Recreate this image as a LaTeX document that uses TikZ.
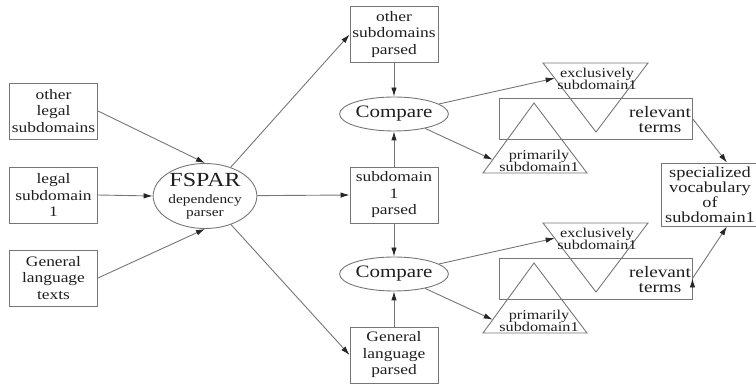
\documentclass[tikz,border=0pt]{standalone}
\usepackage{fontspec}
\setmainfont[FakeStretch=1.2]{Liberation Serif}
\usetikzlibrary{shapes.geometric, arrows.meta, calc}

\definecolor{linegray}{HTML}{767676}
\definecolor{textgray}{HTML}{1E1E1E}

\begin{document}
\begin{tikzpicture}[x=1pt, y=-1pt,
    box/.style={draw=linegray, line width=0.9pt, rectangle, minimum width=88pt, minimum height=56pt,
      inner sep=0pt, align=center, text=textgray, font=\fontsize{14.5}{16.5}\selectfont},
    cmpnode/.style={draw=linegray, line width=0.9pt, ellipse, minimum width=105pt, minimum height=34pt,
      inner sep=0pt, text=textgray, font=\fontsize{17.5}{18}\selectfont},
    tri/.style={draw=linegray, line width=0.9pt, line join=miter},
    tritext/.style={align=center, inner sep=0pt, text=textgray, font=\fontsize{13.5}{12.5}\selectfont},
    reltext/.style={align=center, inner sep=0pt, text=textgray, font=\fontsize{16}{15}\selectfont},
    flow/.style={draw=linegray, line width=0.9pt, -{Latex[length=9pt, width=5.5pt, color=black!85]}}]
  \useasboundingbox (0,0) rectangle (756,387);

  \node[box] (lother) at (53.5,111) {other\\legal\\subdomains};
  \node[box] (lsub) at (53.5,195) {legal\\subdomain\\1};
  \node[box] (ltexts) at (53.5,278) {General\\language\\texts};

  \node[draw=linegray, line width=0.9pt, ellipse, minimum width=95pt, minimum height=58pt, inner sep=0pt,
    align=center, text=textgray, font=\fontsize{20}{20}\selectfont] (fspar) at (205,196)
    {FSPAR\\[-3pt]{\fontsize{12.8}{12.5}\selectfont dependency}\\[-7pt]{\fontsize{12.8}{12.5}\selectfont parser}};

  \node[box] (othparsed) at (394,34.5) {other\\subdomains\\parsed};
  \node[cmpnode] (cmp1) at (394,114) {Compare};
  \node[box] (subparsed) at (394,195) {subdomain\\1\\parsed};
  \node[cmpnode] (cmp2) at (394,274) {Compare};
  \node[box] (genparsed) at (394,355) {General\\language\\parsed};

  \node[draw=linegray, line width=0.9pt, minimum width=98pt, minimum height=63pt, inner sep=0pt,
    align=center, text=textgray, font=\fontsize{15.3}{15}\selectfont] (spec) at (710,194.5)
    {specialized\\vocabulary\\of\\subdomain1};

  \node[draw=linegray, line width=0.9pt, minimum width=193pt, minimum height=41pt, inner sep=0pt] (rel1) at (595.5,118.5) {};
  \node[draw=linegray, line width=0.9pt, minimum width=193pt, minimum height=41pt, inner sep=0pt] (rel2) at (595.5,278.5) {};

  \coordinate (excl1a) at (543,63);
  \coordinate (excl1b) at (648,63);
  \coordinate (excl1c) at (596,132);
  \coordinate (prim1a) at (534,103);
  \coordinate (prim1b) at (483,173);
  \coordinate (prim1c) at (587,173);
  \draw[tri] (excl1a) -- (excl1b) -- (excl1c) -- cycle;
  \draw[tri] (prim1a) -- (prim1b) -- (prim1c) -- cycle;

  \coordinate (excl2a) at (543,223);
  \coordinate (excl2b) at (648,223);
  \coordinate (excl2c) at (596,292);
  \coordinate (prim2a) at (534,263);
  \coordinate (prim2b) at (483,333);
  \coordinate (prim2c) at (587,333);
  \draw[tri] (excl2a) -- (excl2b) -- (excl2c) -- cycle;
  \draw[tri] (prim2a) -- (prim2b) -- (prim2c) -- cycle;

  \node[tritext] (excl1txt) at (597,79) {exclusively\\subdomain1};
  \node[tritext] (prim1txt) at (539,161) {primarily\\subdomain1};
  \node[reltext] (rel1txt) at (660,120) {relevant\\terms};
  \node[tritext] (excl2txt) at (597,239) {exclusively\\subdomain1};
  \node[tritext] (prim2txt) at (539,321) {primarily\\subdomain1};
  \node[reltext] (rel2txt) at (660,280) {relevant\\terms};

  \coordinate (excl1in) at ($(excl1a)!0.22!(excl1c)$);
  \coordinate (prim1in) at ($(prim1a)!0.81!(prim1b)$);
  \coordinate (excl2in) at ($(excl2a)!0.22!(excl2c)$);
  \coordinate (prim2in) at ($(prim2a)!0.81!(prim2b)$);

  \path[flow]
    (lother.east) edge (fspar.north)
    (lsub.east) edge (fspar.west)
    (ltexts.east) edge (fspar.south)
    (fspar) edge (othparsed.west)
    (fspar) edge (subparsed.west)
    (fspar) edge (genparsed.west)
    (othparsed) edge (cmp1)
    (subparsed) edge (cmp1)
    (subparsed) edge (cmp2)
    (genparsed) edge (cmp2)
    (cmp1) edge (excl1in)
    (cmp1) edge (prim1in)
    (cmp2) edge (excl2in)
    (cmp2) edge (prim2in)
    (rel1.east) edge (spec.62)
    (rel2.east) edge (spec.-62);
\end{tikzpicture}
\end{document}
